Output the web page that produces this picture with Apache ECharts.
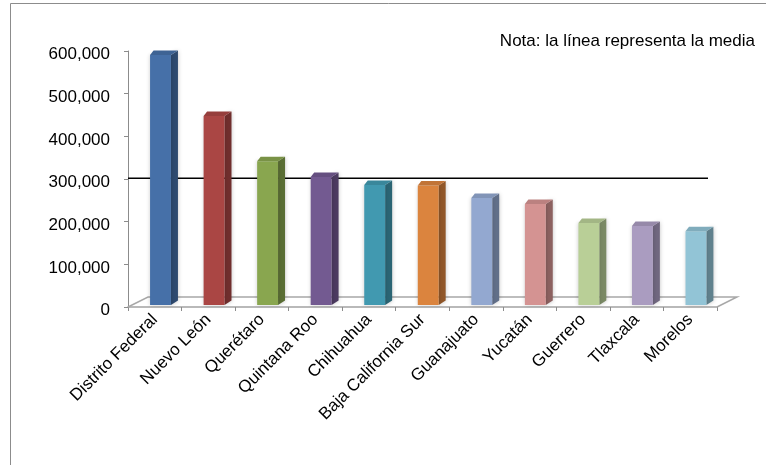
<!DOCTYPE html>
<html>
<head>
<meta charset="utf-8">
<script src="https://cdn.jsdelivr.net/npm/echarts@6/dist/echarts.min.js"></script>
<style>
  html, body { margin: 0; padding: 0; background: #fff; }
  #chart { width: 766px; height: 465px; }
</style>
</head>
<body>
<div id="chart"></div>
<script>
// Estados y valores
const estados = ['Distrito Federal', 'Nuevo León', 'Querétaro', 'Quintana Roo', 'Chihuahua',
  'Baja California Sur', 'Guanajuato', 'Yucatán', 'Guerrero', 'Tlaxcala', 'Morelos'];
const valores = [586000, 443000, 337000, 300000, 281000, 280000, 251000, 237000, 192000, 185000, 173000];
const colores = ['#4670a8', '#aa4644', '#89a64f', '#735a91', '#4199b0', '#db843e',
  '#93a8d0', '#d49392', '#b9cf97', '#aa9cc0', '#92c4d6'];
const nota = 'Nota: la línea representa la media';

const media = valores.reduce((a, b) => a + b, 0) / valores.length;
const FONT = '"Liberation Sans", Arial, sans-serif';

function shade(hex, f) {
  const n = parseInt(hex.slice(1), 16);
  const r = Math.round(((n >> 16) & 255) * f);
  const g = Math.round(((n >> 8) & 255) * f);
  const b = Math.round((n & 255) * f);
  return 'rgb(' + r + ',' + g + ',' + b + ')';
}

// depth of the floor, in pixels
const DEPTH_X = 20, DEPTH_Y = -10;
// bars stand slightly behind the front edge of the floor
const LIFT = 2;

const chart = echarts.init(document.getElementById('chart'), null, { renderer: 'canvas' });

chart.setOption({
  animation: false,
  grid: { left: 128, right: 49, top: 51, bottom: 158 },
  xAxis: {
    type: 'category',
    data: estados,
    boundaryGap: true,
    axisLine: { lineStyle: { color: '#a3a3a3', width: 1.5 } },
    axisTick: { show: true, length: 4, lineStyle: { color: '#8c8c8c' } },
    axisLabel: {
      rotate: 45, interval: 0, color: '#000', fontSize: 17, fontFamily: FONT, margin: 10
    },
    splitLine: { show: false }
  },
  yAxis: {
    type: 'value',
    min: 0, max: 600000, interval: 100000,
    axisLine: { show: true, lineStyle: { color: '#8c8c8c', width: 1 } },
    axisTick: { show: true, length: 4, lineStyle: { color: '#8c8c8c' } },
    axisLabel: {
      margin: 18,
      formatter: v => '{v|' + echarts.format.addCommas(v) + '}',
      rich: { v: { color: '#000', fontSize: 17, fontFamily: FONT, lineHeight: 24, verticalAlign: 'bottom' } }
    },
    splitLine: { show: false }
  },
  graphic: [
    {
      type: 'rect', silent: true, z: -10,
      shape: { x: 10.5, y: 3.5, width: 800, height: 500 },
      style: { fill: 'none', stroke: '#8c8c8c', lineWidth: 1 }
    },
    {
      type: 'text', silent: true,
      x: 755, y: 41,
      style: { text: nota, font: '17px ' + FONT, fill: '#000', align: 'right', verticalAlign: 'middle' }
    }
  ],
  series: [
    {
      // floor of the 3D plot and the mean line
      type: 'custom',
      z: 1,
      data: [[0, media]],
      silent: true,
      renderItem(params, api) {
        const cs = params.coordSys;
        const x0 = cs.x, x1 = cs.x + cs.width, yb = cs.y + cs.height;
        const ym = api.coord([0, api.value(1)])[1] - LIFT;
        return {
          type: 'group',
          children: [
            {
              type: 'polyline', z2: 0,
              shape: { points: [[x0, yb], [x0 + DEPTH_X, yb + DEPTH_Y], [x1 + DEPTH_X, yb + DEPTH_Y], [x1, yb]] },
              style: { stroke: '#a8a8a8', lineWidth: 1.5, fill: null }
            },
            {
              type: 'line', z2: 0,
              shape: { x1: x0, y1: ym, x2: x1 - 9, y2: ym },
              style: { stroke: '#000', lineWidth: 1.5 }
            }
          ]
        };
      }
    },
    {
      type: 'custom',
      z: 3,
      data: valores.map((v, i) => [i, v]),
      renderItem(params, api) {
        const i = api.value(0);
        const base = api.coord([i, 0]);
        const top = api.coord([i, api.value(1)]);
        const band = api.size([1, 0])[0];
        const w = band * 0.39;
        const cx = base[0] + band * 0.107;
        const xl = cx - w / 2, xr = cx + w / 2;
        const yb = base[1] - LIFT, yt = top[1] - LIFT;
        const dx = 7, dy = -4.5;
        const c = colores[i];
        return {
          type: 'group',
          children: [
            {
              type: 'polygon',
              shape: { points: [[xr, yt], [xr + dx, yt + dy], [xr + dx, yb + dy], [xr, yb]] },
              style: { fill: shade(c, 0.66), shadowBlur: 4, shadowColor: 'rgba(0,0,0,0.25)' }
            },
            {
              type: 'rect',
              shape: { x: xl, y: yt, width: w, height: yb - yt },
              style: { fill: c, shadowBlur: 4, shadowColor: 'rgba(0,0,0,0.2)' }
            },
            {
              type: 'polygon',
              shape: { points: [[xl, yt], [xr, yt], [xr + dx, yt + dy], [xl + dx * 0.5, yt + dy]] },
              style: { fill: shade(c, 0.88) }
            }
          ]
        };
      }
    }
  ]
});
</script>
</body>
</html>
